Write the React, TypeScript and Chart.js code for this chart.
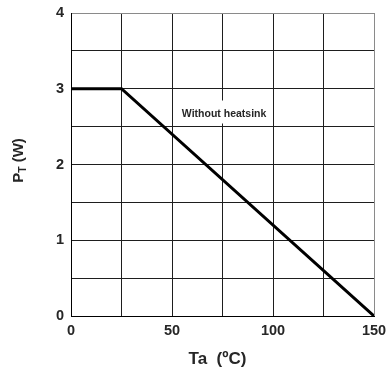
import React, { useEffect, useRef } from "react";
import { Chart, registerables } from "chart.js";

Chart.register(...registerables);

// Derating curve: Ta (ºC) vs P_T (W)
const taValues = [0, 25, 150];
const ptValues = [3, 3, 0];

const xMin = 0;
const xMax = 150;
const xStep = 25;
const xLabeled = [0, 50, 100, 150];

const yMin = 0;
const yMax = 4;
const yStep = 0.5;
const yLabeled = [0, 1, 2, 3, 4];

const curveLabel = "Without heatsink";
const curveLabelAt = { x: 75.8, y: 2.66 };

const xTitle = "Ta  (ºC)";
const yTitleMain = "P";
const yTitleSub = "T";
const yTitleRest = " (W)";

const FONT = "'Liberation Sans', Arial, Helvetica, sans-serif";
const TEXT = "#262626";

export default function App() {
  const ref = useRef<HTMLCanvasElement | null>(null);

  useEffect(() => {
    const canvas = ref.current;
    if (!canvas) return;

    const annotationPlugin = {
      id: "curveLabel",
      beforeDatasetsDraw(chart: any) {
        const { ctx, scales } = chart;
        const px = scales.x.getPixelForValue(curveLabelAt.x);
        const py = scales.y.getPixelForValue(curveLabelAt.y);
        ctx.save();
        ctx.font = `bold 10.5px ${FONT}`;
        const w = ctx.measureText(curveLabel).width;
        ctx.fillStyle = "#ffffff";
        ctx.fillRect(px - w / 2 - 3, py - 14, w + 6, 23);
        ctx.fillStyle = TEXT;
        ctx.textAlign = "center";
        ctx.textBaseline = "middle";
        ctx.fillText(curveLabel, px, py);
        ctx.restore();
      },
    };

    const titlesPlugin = {
      id: "titles",
      afterDraw(chart: any) {
        const { ctx, chartArea } = chart;
        ctx.save();
        ctx.fillStyle = TEXT;
        ctx.font = `bold 17px ${FONT}`;
        ctx.textAlign = "center";
        ctx.textBaseline = "middle";
        ctx.fillText(xTitle, (chartArea.left + chartArea.right) / 2 - 5, 359);
        ctx.restore();

        const cy = (chartArea.top + chartArea.bottom) / 2 - 4;
        ctx.save();
        ctx.translate(23, cy);
        ctx.rotate(-Math.PI / 2);
        ctx.fillStyle = TEXT;
        ctx.textBaseline = "alphabetic";
        ctx.textAlign = "left";
        const big = `bold 15px ${FONT}`;
        const small = `bold 10.5px ${FONT}`;
        ctx.font = big;
        const w1 = ctx.measureText(yTitleMain).width;
        const w3 = ctx.measureText(yTitleRest).width;
        ctx.font = small;
        const w2 = ctx.measureText(yTitleSub).width;
        const total = w1 + w2 + w3;
        let x = -total / 2;
        ctx.font = big;
        ctx.fillText(yTitleMain, x, 0);
        x += w1;
        ctx.font = small;
        ctx.fillText(yTitleSub, x, 3);
        x += w2;
        ctx.font = big;
        ctx.fillText(yTitleRest, x, 0);
        ctx.restore();
      },
    };

    const chart = new Chart(canvas, {
      type: "line",
      data: {
        datasets: [
          {
            data: taValues.map((t, i) => ({ x: t, y: ptValues[i] })),
            borderColor: "#000000",
            borderWidth: 3,
            pointRadius: 0,
            tension: 0,
            fill: false,
          },
        ],
      },
      options: {
        animation: false,
        responsive: false,
        devicePixelRatio: 1,
        layout: { padding: { top: 13, right: 16, left: 0, bottom: 0 } },
        plugins: {
          legend: { display: false },
          tooltip: { enabled: false },
        },
        scales: {
          x: {
            type: "linear",
            min: xMin,
            max: xMax,
            afterFit: (scale: any) => {
              scale.height = 55;
              scale.paddingLeft = 0;
              scale.paddingRight = 0;
            },
            afterBuildTicks: (scale: any) => {
              const t = [];
              for (let v = xMin; v <= xMax; v += xStep) t.push({ value: v });
              scale.ticks = t;
            },
            ticks: {
              autoSkip: false,
              maxRotation: 0,
              padding: 6,
              color: TEXT,
              font: { family: FONT, size: 14.5, weight: "bold" },
              callback: (v: any) => (xLabeled.includes(Number(v)) ? String(v) : ""),
            },
            grid: {
              drawTicks: false,
              lineWidth: 1,
              color: (c: any) => (c.tick && c.tick.value === xMax ? "#8a8a8a" : "#1e1e1e"),
            },
            border: { display: true, color: "#000000", width: 1 },
          },
          y: {
            type: "linear",
            min: yMin,
            max: yMax,
            afterFit: (scale: any) => {
              scale.width = 71;
              scale.paddingTop = 0;
              scale.paddingBottom = 0;
            },
            afterBuildTicks: (scale: any) => {
              const t = [];
              for (let v = yMin; v <= yMax + 1e-9; v += yStep) t.push({ value: v });
              scale.ticks = t;
            },
            ticks: {
              autoSkip: false,
              padding: 7,
              color: TEXT,
              font: { family: FONT, size: 14.5, weight: "bold" },
              callback: (v: any) => (yLabeled.includes(Number(v)) ? String(v) : ""),
            },
            grid: {
              drawTicks: false,
              lineWidth: 1,
              color: (c: any) => (c.tick && c.tick.value === yMax ? "#8a8a8a" : "#1e1e1e"),
            },
            border: { display: true, color: "#000000", width: 1 },
          },
        },
      },
      plugins: [annotationPlugin, titlesPlugin],
    });

    return () => chart.destroy();
  }, []);

  return (
    <div style={{ position: "fixed", left: 0, top: 0, width: 390, height: 371, background: "#fff" }}>
      <canvas ref={ref} width={390} height={371} style={{ display: "block" }} />
    </div>
  );
}
